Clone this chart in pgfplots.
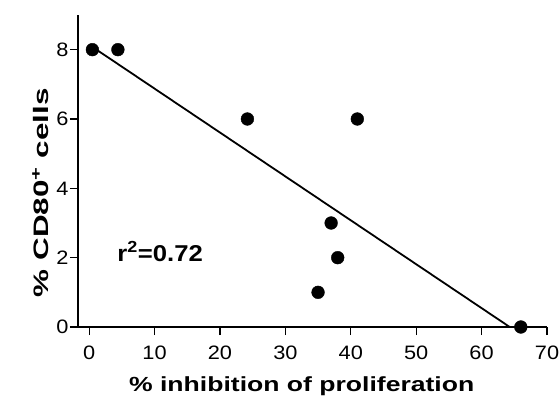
\documentclass[border=0pt]{standalone}
\usepackage{pgfplots}
\pgfplotsset{compat=1.18}
\usepackage{fontspec}
\setmainfont{Liberation Sans}
\newfontfamily\tickfont[FakeStretch=1.12]{Liberation Sans}
\newfontfamily\xlabfont[FakeStretch=1.3]{Liberation Sans}
\newfontfamily\ylabfont[FakeStretch=1.5]{Liberation Sans}
\newfontfamily\rfont[FakeStretch=1.12]{Liberation Sans}
\begin{document}
\begin{tikzpicture}
\useasboundingbox (-78bp,-77bp) rectangle (481bp,327bp);
\begin{axis}[
  at={(0,0)}, anchor=south west,
  scale only axis, width=469bp, height=312bp,
  xmin=-1.7, xmax=70, ymin=0, ymax=9,
  axis x line=bottom, axis y line=left,
  axis line style={line width=1.6bp, -},
  every tick/.style={black, line width=1.2bp},
  xtick={0,10,...,70}, ytick={0,2,4,6,8},
  tick align=outside, major tick length=8bp,
  /pgf/number format/assume math mode=true,
  tick label style={font=\tickfont\fontsize{19.5}{22}\selectfont},
  x tick label style={yshift=-7bp},
  y tick label style={xshift=2bp},
  xlabel={\% inhibition of proliferation},
  ylabel={\% CD80\textsuperscript{+} cells},
  xlabel style={font=\xlabfont\fontsize{20.5}{24}\selectfont\bfseries,
    at={(axis description cs:0.477,-0.19)}, anchor=center},
  ylabel style={font=\ylabfont\fontsize{21}{24}\selectfont\bfseries,
    at={(axis description cs:-0.08,0.43)}, anchor=center},
  clip=false,
]
\addplot[only marks, mark=*, mark size=6.4bp, black] coordinates {
  (0.5,8) (4.4,8) (24.2,6) (41,6) (37,3) (38,2) (35,1) (66,0)
};
\addplot[black, line width=1.8bp] coordinates {(0.5,8.08) (64.3,0)};
\node[anchor=base west, inner sep=0pt, font=\rfont\fontsize{23}{26}\selectfont\bfseries] at (axis cs:4.3,1.88) {r\textsuperscript{2}=0.72};
\end{axis}
\end{tikzpicture}
\end{document}
